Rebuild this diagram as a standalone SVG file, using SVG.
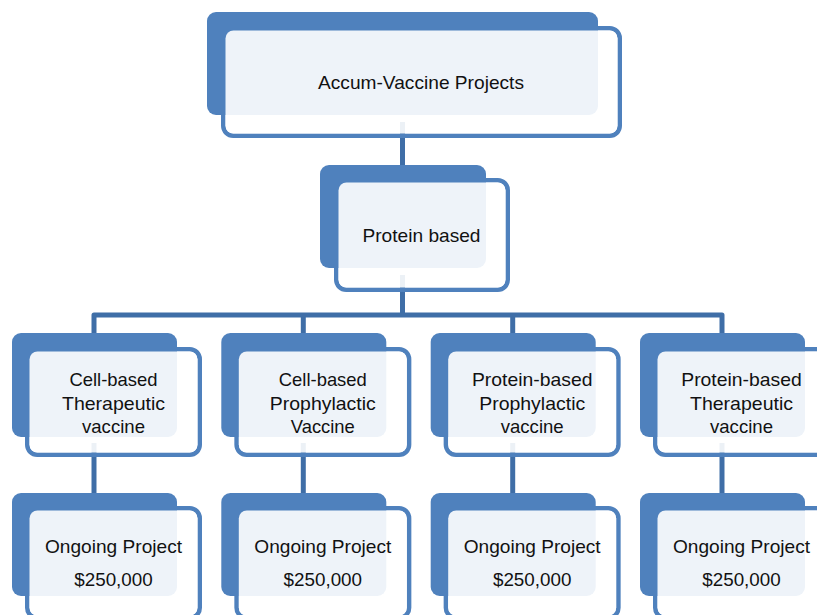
<svg xmlns="http://www.w3.org/2000/svg" width="817" height="615" viewBox="0 0 817 615">
<defs>
<style>
.back{fill:#4F81BD;}
.frame{fill:none;stroke:#4F81BD;stroke-width:4.5;}
.inner{fill:#FFFFFF;fill-opacity:0.9;}
.conn{fill:none;stroke:#3F6EA7;stroke-width:5;stroke-linejoin:round;}
text{font-family:"Liberation Sans",Arial,sans-serif;font-size:18.5px;fill:#111111;text-anchor:middle;}
</style>
</defs>
<rect width="817" height="615" fill="#FFFFFF"/>
<g id="connectors">
<path class="conn" d="M402.5,122 V170"/>
<path class="conn" d="M402.5,275 V315"/>
<path class="conn" d="M94,338 V315 H722 V338"/>
<path class="conn" d="M303.3,315 V338"/>
<path class="conn" d="M512.7,315 V338"/>
<path class="conn" d="M94,443 V498"/>
<path class="conn" d="M303.3,443 V498"/>
<path class="conn" d="M512.7,443 V498"/>
<path class="conn" d="M722,443 V498"/>
</g>
<g id="node-root">
<rect class="frame" x="223.25" y="28.25" width="396.5" height="107.5" rx="10"/>
<rect class="back" x="207" y="12" width="391" height="103" rx="9"/>
<rect class="inner" x="225.5" y="30.5" width="392" height="103" rx="8"/>
<text x="421" y="89" textLength="206" lengthAdjust="spacingAndGlyphs">Accum-Vaccine Projects</text>
</g>
<g id="node-protein">
<rect class="frame" x="336.25" y="180.25" width="171.5" height="109.5" rx="10"/>
<rect class="back" x="320" y="165" width="166" height="103" rx="9"/>
<rect class="inner" x="338.5" y="182.5" width="167" height="105" rx="8"/>
<text x="421.5" y="242" textLength="118" lengthAdjust="spacingAndGlyphs">Protein based</text>
</g>
<g id="node-cell-ther">
<rect class="frame" x="27.25" y="349.25" width="172.5" height="105.5" rx="10"/>
<rect class="back" x="12" y="333" width="165" height="104" rx="9"/>
<rect class="inner" x="29.5" y="351.5" width="168" height="101" rx="8"/>
<text x="113.5" y="386" textLength="88" lengthAdjust="spacingAndGlyphs">Cell-based</text>
<text x="113.5" y="409.5" textLength="103" lengthAdjust="spacingAndGlyphs">Therapeutic</text>
<text x="113.5" y="432.5" textLength="63" lengthAdjust="spacingAndGlyphs">vaccine</text>
</g>
<g id="node-cell-proph">
<rect class="frame" x="236.6" y="349.25" width="172.5" height="105.5" rx="10"/>
<rect class="back" x="221.3" y="333" width="165" height="104" rx="9"/>
<rect class="inner" x="238.8" y="351.5" width="168" height="101" rx="8"/>
<text x="322.8" y="386" textLength="88" lengthAdjust="spacingAndGlyphs">Cell-based</text>
<text x="322.8" y="409.5" textLength="106" lengthAdjust="spacingAndGlyphs">Prophylactic</text>
<text x="322.8" y="432.5" textLength="64" lengthAdjust="spacingAndGlyphs">Vaccine</text>
</g>
<g id="node-prot-proph">
<rect class="frame" x="445.9" y="349.25" width="172.5" height="105.5" rx="10"/>
<rect class="back" x="430.7" y="333" width="165" height="104" rx="9"/>
<rect class="inner" x="448.2" y="351.5" width="168" height="101" rx="8"/>
<text x="532.2" y="386" textLength="120.5" lengthAdjust="spacingAndGlyphs">Protein-based</text>
<text x="532.2" y="409.5" textLength="106" lengthAdjust="spacingAndGlyphs">Prophylactic</text>
<text x="532.2" y="432.5" textLength="63" lengthAdjust="spacingAndGlyphs">vaccine</text>
</g>
<g id="node-prot-ther">
<rect class="frame" x="655.25" y="349.25" width="172.5" height="105.5" rx="10"/>
<rect class="back" x="640" y="333" width="165" height="104" rx="9"/>
<rect class="inner" x="657.5" y="351.5" width="168" height="101" rx="8"/>
<text x="741.5" y="386" textLength="120.5" lengthAdjust="spacingAndGlyphs">Protein-based</text>
<text x="741.5" y="409.5" textLength="103" lengthAdjust="spacingAndGlyphs">Therapeutic</text>
<text x="741.5" y="432.5" textLength="63" lengthAdjust="spacingAndGlyphs">vaccine</text>
</g>
<g id="node-ongoing-1">
<rect class="frame" x="27.25" y="508.25" width="172.5" height="109.5" rx="10"/>
<rect class="back" x="12" y="493" width="165" height="103" rx="9"/>
<rect class="inner" x="29.5" y="510.5" width="168" height="105" rx="8"/>
<text x="113.5" y="553" textLength="137" lengthAdjust="spacingAndGlyphs">Ongoing Project</text>
<text x="113.5" y="585.5" textLength="78.5" lengthAdjust="spacingAndGlyphs">$250,000</text>
</g>
<g id="node-ongoing-2">
<rect class="frame" x="236.6" y="508.25" width="172.5" height="109.5" rx="10"/>
<rect class="back" x="221.3" y="493" width="165" height="103" rx="9"/>
<rect class="inner" x="238.8" y="510.5" width="168" height="105" rx="8"/>
<text x="322.8" y="553" textLength="137" lengthAdjust="spacingAndGlyphs">Ongoing Project</text>
<text x="322.8" y="585.5" textLength="78.5" lengthAdjust="spacingAndGlyphs">$250,000</text>
</g>
<g id="node-ongoing-3">
<rect class="frame" x="445.9" y="508.25" width="172.5" height="109.5" rx="10"/>
<rect class="back" x="430.7" y="493" width="165" height="103" rx="9"/>
<rect class="inner" x="448.2" y="510.5" width="168" height="105" rx="8"/>
<text x="532.2" y="553" textLength="137" lengthAdjust="spacingAndGlyphs">Ongoing Project</text>
<text x="532.2" y="585.5" textLength="78.5" lengthAdjust="spacingAndGlyphs">$250,000</text>
</g>
<g id="node-ongoing-4">
<rect class="frame" x="655.25" y="508.25" width="172.5" height="109.5" rx="10"/>
<rect class="back" x="640" y="493" width="165" height="103" rx="9"/>
<rect class="inner" x="657.5" y="510.5" width="168" height="105" rx="8"/>
<text x="741.5" y="553" textLength="137" lengthAdjust="spacingAndGlyphs">Ongoing Project</text>
<text x="741.5" y="585.5" textLength="78.5" lengthAdjust="spacingAndGlyphs">$250,000</text>
</g>
</svg>
